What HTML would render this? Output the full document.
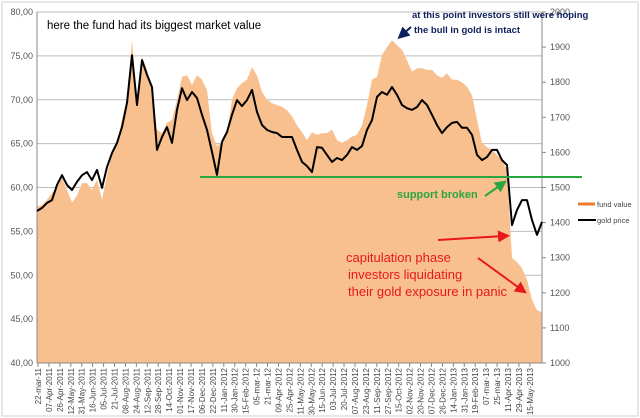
<!DOCTYPE html>
<html><head><meta charset="utf-8"><style>
body{margin:0;background:#fff;}
svg{display:block;font-family:"Liberation Sans",sans-serif;}
</style></head><body>
<svg id="chart" width="640" height="418" viewBox="0 0 640 418">
<rect x="2" y="2" width="636" height="414" fill="#fff" stroke="#d0d0d0"/>
<g id="grid"></g>
<g id="area"></g>
<g id="axes"></g>
<g id="line"></g>
<g id="notes"></g>
</svg>
<script>
const dateLabels=["22-mar-11","07-Apr-2011","26-Apr-2011","12-May-2011","31-May-2011","16-Jun-2011","05-Jul-2011","21-Jul-2011","08-Aug-2011","24-Aug-2011","12-Sep-2011","28-Sep-2011","14-Oct-2011","01-Nov-2011","17-Nov-2011","06-Dec-2011","22-Dec-2011","11-Jan-2012","30-Jan-2012","15-Feb-2012","05-mar-12","21-mar-12","09-Apr-2012","25-Apr-2012","11-May-2012","30-May-2012","15-Jun-2012","03-Jul-2012","20-Jul-2012","07-Aug-2012","23-Aug-2012","11-Sep-2012","27-Sep-2012","15-Oct-2012","02-Nov-2012","20-Nov-2012","07-Dec-2012","26-Dec-2012","14-Jan-2013","31-Jan-2013","19-Feb-2013","07-mar-13","25-mar-13","11-Apr-2013","29-Apr-2013","15-May-2013"];
const leftTicks=[40,45,50,55,60,65,70,75,80];
const rightTicks=[1000,1100,1200,1300,1400,1500,1600,1700,1800,1900,2000];
const fundValue=[57.8,58.0,58.6,59.4,59.9,61.1,59.7,58.3,59.1,60.5,60.5,59.7,60.9,58.6,61.4,63.9,65.1,67.7,70.3,76.8,69.6,74.9,73.4,71.5,66.6,66.2,67.4,67.7,70.0,72.6,72.8,71.7,72.8,72.3,
71.1,66.2,64.7,65.2,66.2,70.0,71.3,71.9,72.3,73.7,72.8,70.9,70.0,69.6,69.4,69.2,68.8,68.1,67.1,66.3,65.4,66.3,66.0,66.2,66.2,66.6,65.4,65.1,65.4,65.8,66.0,67.1,69.4,72.3,
72.6,75.1,76.0,76.8,76.2,75.7,74.5,73.2,73.6,73.6,73.4,73.4,72.8,72.5,73.0,72.3,72.3,72.0,71.5,70.5,67.7,65.1,64.6,64.3,63.7,63.1,62.0,52.0,51.5,50.8,49.5,47.2,46.0,45.8];
const goldPrice=[1433,1442,1456,1464,1507,1535,1507,1493,1516,1535,1544,1521,1550,1499,1558,1598,1627,1672,1741,1877,1735,1863,1821,1786,1607,1644,1672,1627,1721,1783,1749,1772,1755,1707,
1664,1601,1536,1630,1658,1707,1749,1732,1749,1778,1715,1678,1664,1658,1655,1644,1644,1644,1607,1573,1561,1544,1615,1613,1593,1573,1584,1578,1593,1615,1607,1618,1664,1692,
1758,1772,1764,1786,1764,1735,1726,1721,1729,1749,1735,1707,1678,1655,1672,1684,1687,1670,1670,1650,1593,1578,1587,1607,1607,1578,1564,1393,1436,1464,1464,1407,1365,1402];
const supportLevel=1530;

const X0=37,X1=542,Y0=363,Y1=12;
const NS="http://www.w3.org/2000/svg";
function yL(v){return Y0-(v-40)/(80-40)*(Y0-Y1);}
function yR(v){return Y0-(v-1000)/(2000-1000)*(Y0-Y1);}
function xi(i,n){return X0+i*(X1-X0)/(n-1);}
function mk(tag,attrs,parent){const e=document.createElementNS(NS,tag);for(const k in attrs)e.setAttribute(k,attrs[k]);parent.appendChild(e);return e;}
const grid=document.getElementById('grid'),area=document.getElementById('area'),axes=document.getElementById('axes'),line=document.getElementById('line'),notes=document.getElementById('notes');

leftTicks.forEach(v=>{
  if(v>40){const g=mk('line',{x1:X0,x2:X1,y1:yL(v),y2:yL(v),stroke:'#bdbdbd','stroke-width':1},grid);
  
  }
  const t=mk('text',{x:33,y:yL(v)+3,'text-anchor':'end','font-size':9,fill:'#555'},axes);
  t.textContent=v.toFixed(2).replace('.',',');
  
  
});
rightTicks.forEach(v=>{
  const tk=mk('line',{x1:X1,x2:X1+4,y1:yR(v),y2:yR(v),stroke:'#888'},axes);
  
  
  const t=mk('text',{x:550,y:yR(v)+3,'font-size':9,fill:'#555'},axes);
  t.textContent=v;
  
  
});

// fund area
let d='M'+X0+','+Y0;
fundValue.forEach((v,i)=>{d+=' L'+xi(i,fundValue.length).toFixed(1)+','+yL(v).toFixed(1);});
d+=' L'+X1+','+Y0+' Z';
const ar=mk('path',{d:d,fill:'#f9c08f'},area);



// axes lines
const la=mk('line',{x1:X0,x2:X0,y1:Y1,y2:Y0,stroke:'#888'},axes);


const ra=mk('line',{x1:X1,x2:X1,y1:Y1,y2:Y0,stroke:'#888'},axes);


const xa=mk('line',{x1:X0,x2:X1,y1:Y0,y2:Y0,stroke:'#888'},axes);



const step=10.93;
dateLabels.forEach((s,i)=>{
  const x=X0+1+i*step;
  const tk=mk('line',{x1:x,x2:x,y1:Y0,y2:Y0+4,stroke:'#888'},axes);
  
  
  const t=mk('text',{x:0,y:0,'text-anchor':'end','font-size':8,fill:'#444',transform:'translate('+(x+3)+','+(Y0+5)+') rotate(-90)'},axes);
  t.textContent=s;
  
  
});

// gold line
const pts=goldPrice.map((v,i)=>xi(i,goldPrice.length).toFixed(1)+','+yR(v).toFixed(1)).join(' ');
const pl=mk('polyline',{points:pts,fill:'none',stroke:'#000','stroke-width':2,'stroke-linejoin':'round'},line);



// support line
const sl=mk('line',{x1:200,x2:582,y1:yR(supportLevel),y2:yR(supportLevel),stroke:'#2aa640','stroke-width':2},line);


</script>
<svg style="position:absolute;left:0;top:0" width="640" height="418">
<defs>
<marker id="ab" markerWidth="6" markerHeight="6" refX="3" refY="3" orient="auto"><path d="M0,0 L6,3 L0,6 Z" fill="#0d1f5c"/></marker>
<marker id="ag" markerWidth="6" markerHeight="6" refX="3" refY="3" orient="auto"><path d="M0,0 L6,3 L0,6 Z" fill="#2aa640"/></marker>
<marker id="ar" markerWidth="6" markerHeight="6" refX="3" refY="3" orient="auto"><path d="M0,0 L6,3 L0,6 Z" fill="#e81818"/></marker>
</defs>
<text x="47" y="29" font-family="Liberation Sans,sans-serif" font-size="11.5" fill="#000">here the fund had its biggest market value</text>
<text x="412" y="18" font-family="Liberation Sans,sans-serif" font-size="9.5" font-weight="bold" fill="#0d1f5c">at this point investors still were hoping</text>
<text x="414" y="33" font-family="Liberation Sans,sans-serif" font-size="9.5" font-weight="bold" fill="#0d1f5c">the bull  in gold is intact</text>
<line x1="411" y1="27" x2="402" y2="35" stroke="#0d1f5c" stroke-width="2" marker-end="url(#ab)"/>
<text x="397" y="198" font-family="Liberation Sans,sans-serif" font-size="11" font-weight="bold" fill="#2aa640">support broken</text>
<line x1="485" y1="196" x2="502" y2="184" stroke="#2aa640" stroke-width="2" marker-end="url(#ag)"/>
<text x="346" y="262" font-family="Liberation Sans,sans-serif" font-size="13" fill="#e81818">capitulation phase</text>
<text x="348" y="279" font-family="Liberation Sans,sans-serif" font-size="13" fill="#e81818">investors  liquidating</text>
<text x="348" y="296" font-family="Liberation Sans,sans-serif" font-size="13" fill="#e81818">their gold exposure  in panic</text>
<line x1="438" y1="240" x2="504" y2="236" stroke="#e81818" stroke-width="2" marker-end="url(#ar)"/>
<line x1="478" y1="258" x2="522" y2="290" stroke="#e81818" stroke-width="2" marker-end="url(#ar)"/>
<g>
<line x1="578" y1="204" x2="595" y2="204" stroke="#f07a2c" stroke-width="3"/>
<text x="597" y="207" font-family="Liberation Sans,sans-serif" font-size="7.5" fill="#444">fund value</text>
<line x1="578" y1="220" x2="596" y2="220" stroke="#000" stroke-width="2"/>
<text x="597" y="223" font-family="Liberation Sans,sans-serif" font-size="7.5" fill="#444">gold price</text>
</g>
</svg>
</body></html>
